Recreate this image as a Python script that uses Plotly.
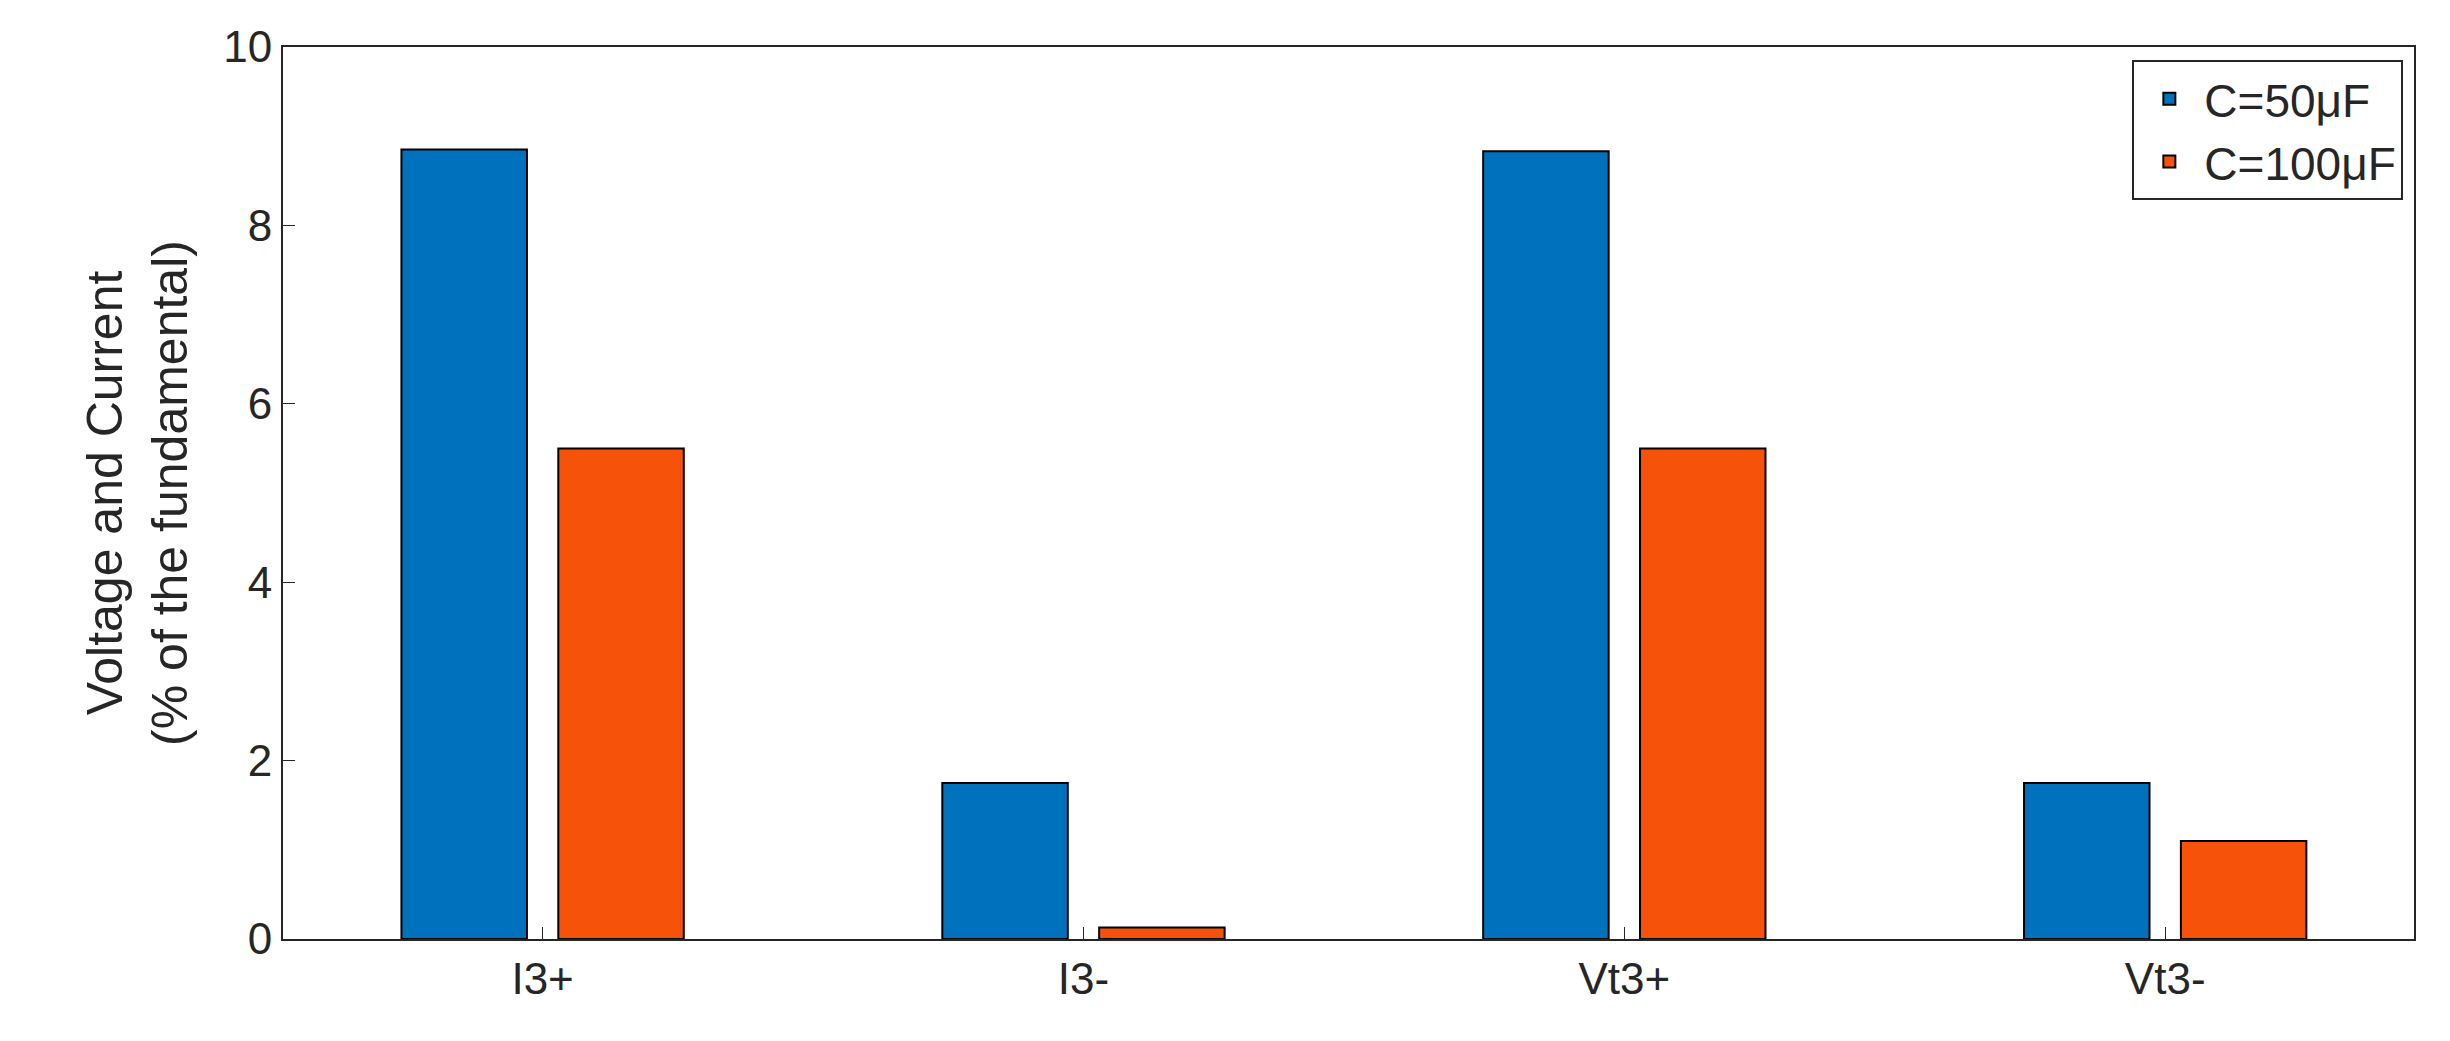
import plotly.graph_objects as go

categories = ["I3+", "I3-", "Vt3+", "Vt3-"]
c50 = [8.85, 1.75, 8.83, 1.75]
c100 = [5.5, 0.13, 5.5, 1.1]
xpos = [1, 2, 3, 4]

fig = go.Figure()
fig.add_bar(x=xpos, y=c50, name="C=50μF", marker=dict(color="#0072BD", line=dict(color="black", width=2)))
fig.add_bar(x=xpos, y=c100, name="C=100μF", marker=dict(color="#F7520A", line=dict(color="black", width=2)))

axis = dict(showline=True, linecolor="#262626", linewidth=2, mirror=True, ticks="inside",
            ticklen=12, tickcolor="#262626", showgrid=False, zeroline=False,
            tickfont=dict(family="Arial, Liberation Sans", size=44, color="#262626"))
fig.update_layout(
    width=2450, height=1041, plot_bgcolor="white", paper_bgcolor="white",
    margin=dict(l=275, r=44, t=39, b=110),
    barmode="group", bargap=0.42, bargroupgap=0.2,
    font=dict(family="Arial, Liberation Sans", color="#262626"),
    xaxis=dict(axis, range=[0.52, 4.46], tickvals=xpos, ticktext=categories),
    yaxis=dict(axis, range=[0, 10], tickvals=[0, 2, 4, 6, 8, 10],
               title=dict(text="Voltage and Current<br>(% of the fundamental)",
                          font=dict(size=50, color="#262626"), standoff=20)),
    legend=dict(x=0.995, y=0.985, xanchor="right", yanchor="top", bgcolor="white",
                bordercolor="#262626", borderwidth=2, itemwidth=60,
                font=dict(size=46, color="#262626")),
    showlegend=True,
)
fig.write_html("out.html")
